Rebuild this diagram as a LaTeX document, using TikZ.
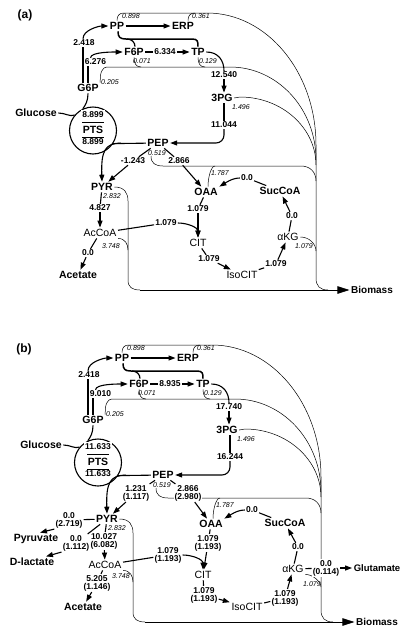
\documentclass[tikz,border=0pt]{standalone}
\usepackage{fontspec}
\setmainfont{Liberation Sans}
\usetikzlibrary{arrows.meta}
\newcommand\MetFont{\fontsize{10.5}{12}\selectfont}
\newcommand\NumFont{\fontsize{8.5}{8}\selectfont\bfseries}
\newcommand\ItFont{\fontsize{7}{8}\selectfont\itshape}
\tikzset{
  met/.style={inner sep=1.5pt, font=\MetFont\bfseries},
  metr/.style={inner sep=1.5pt, font=\MetFont},
  lab/.style={fill=white, inner sep=1pt, font=\NumFont, align=center},
  bio/.style={inner sep=0.5pt, font=\ItFont},
  fline/.style={line width=1.1pt},
  flux/.style={line width=1.1pt, -{Triangle[length=7pt,width=5pt]}},
  drain/.style={line width=0.5pt},
  bigarr/.style={line width=0.6pt, -{Triangle[length=12pt,width=7.5pt]}},
  ttl/.style={inner sep=0pt, font=\fontsize{12}{14}\selectfont\bfseries},
}
\newcommand\Skeleton{%
  \node[met] (PP) at (117,26) {PP};
  \node[met] (ERP) at (183,26) {ERP};
  \node[met] (F6P) at (134,52) {F6P};
  \node[met] (TP) at (198,52) {TP};
  \node[met] (G6P) at (88,88) {G6P};
  \node[met] (3PG) at (222,98) {3PG};
  \node[met] (PEP) at (158,143) {PEP};
  \node[met] (PYR) at (102,187) {PYR};
  \node[met] (OAA) at (206,192) {OAA};
  \node[met] (SucCoA) at (280,191) {SucCoA};
  \node[metr] (AcCoA) at (100,233) {AcCoA};
  \node[metr] (CIT) at (198,243) {CIT};
  \node[metr] (aKG) at (288,237) {αKG};
  \node[metr] (IsoCIT) at (242,275) {IsoCIT};
  \node[met] (Acetate) at (78,275) {Acetate};
  \node[met] (Glucose) at (36,113) {Glucose};
  \node[met, font=\fontsize{10}{12}\selectfont\bfseries] (Biomass) at (372,290) {Biomass};
  \node[circle, draw, line width=1.1pt, minimum size=47pt, inner sep=0pt] (PTS) at (93,130.5) {};
  \node[inner sep=0.5pt, font=\fontsize{10.5}{12}\selectfont\bfseries] (PTSt) at (93,129.5) {PTS};
  \draw[line width=0.9pt] ([shift={(-11,-8.5)}]PTS.center) -- ([shift={(11,-8.5)}]PTS.center);
  \draw[line width=0.9pt] ([shift={(-11,6.5)}]PTS.center) -- ([shift={(11,6.5)}]PTS.center);
  % italic biomass drains
  \node[bio] (i1) at (131,16) {0.898};
  \node[bio] (i2) at (201,16) {0.361};
  \node[bio] (i3) at (110,82) {0.205};
  \node[bio] (i4) at (142,61) {0.071};
  \node[bio] (i5) at (208,61) {0.129};
  \node[bio] (i6) at (241,107) {1.496};
  \node[bio] (i7) at (157,153) {0.519};
  \node[bio] (i8) at (220,173) {1.787};
  \node[bio] (i9) at (112,196) {2.832};
  % drain lines
  \coordinate (jTop) at (124,13);
  \coordinate (jMid) at (108,67);
  \coordinate (hPEP) at (151,156);
  \draw[drain] (PP.north) .. controls +(0,-5) and +(-5,0) .. (jTop) -- (207,13)
     .. controls (267,13) and (316,72) .. (316,145);
  \draw[drain] ([xshift=5pt]ERP.north) .. controls +(0,-5) and +(-5,0) .. (195,13);
  \draw[drain] (G6P.north east) .. controls +(0,-9) and +(-7,0) .. (jMid) -- (230,67)
     .. controls (277.5,67) and (316,108.6) .. (316,160);
  \draw[drain] (F6P.south) .. controls +(0,6) and +(-5,0) .. (141,67);
  \draw[drain] (TP.south) .. controls +(0,6) and +(-5,0) .. (205,67);
  \draw[drain] (3PG.east) -- (240,97) .. controls (282,97) and (316,128) .. (316,165);
  \draw[drain] (hPEP) .. controls (151,163) and (155,166) .. (163,166) -- (301,166)
     .. controls (310,166) and (316,172) .. (316,181);
  \draw[drain] ([xshift=2pt]OAA.north) .. controls +(0,-9) and +(-4,0) .. (215,166);
  \draw[drain] (316,145) -- (316,278) .. controls (316,286) and (320,290) .. (328,290);
  \draw[drain] (PYR.east) .. controls +(10,0) and +(0,-8) .. (128,201) -- (128,280)
     .. controls (128,287) and (132,290) .. (140,290);
  \draw[drain] (AcCoA.south east) .. controls +(7,0) and +(0,-6) .. (128,250);
  \coordinate (jBio) at (140,290);
  \draw[bigarr] (jBio) -- (Biomass);
  % unlabeled fluxes
  \draw[flux] (PP) -- (ERP);
  \draw[line width=1.5pt] ([xshift=1pt]PP.south) .. controls +(0,6) and +(-6,0) .. (126,39)
     -- (192,39) .. controls +(6,0) and +(0,-5) .. (TP.north);
  \draw[line width=1.2pt] (127,39) .. controls +(5,0) and +(0,-4) .. ([xshift=1pt]F6P.north);
  \draw[fline] (PTS.-33) -- (PEP);
  \coordinate (jPY) at (121,143.2);
  \draw[flux] (jPY) .. controls (105,143) and (101,151) .. (PYR.north);
  \draw[fline] (Glucose.east) .. controls +(7,0) and +(-5,2) .. (PTS.140);
  \draw[fline] (G6P.south) .. controls +(0,7) and +(3,-4) .. (PTS.115);
}
\newcommand\Conn{%
  \draw[fline] ([xshift=-5pt]G6P.north) -- ([xshift=-1pt]L1.south);
  \draw[flux] ([xshift=-1pt]L1.north) .. controls +(0,-9) and +(-9,0) .. (PP.west);
  \draw[fline] (G6P.north) -- (G6P.north |- L2.south);
  \draw[flux] ([xshift=-5pt]L2.north) .. controls +(0,-6) and +(-9,0) .. (F6P.west);
  \draw[fline] (F6P) -- (L3);
  \draw[flux] (L3) -- (TP);
  \draw[fline] (TP.east) .. controls +(12,0) and +(0,-10) .. (L4.north);
  \draw[flux] (L4.south) -- (L4.south |- 3PG.north);
  \draw[fline] (3PG.south -| L5.north) -- (L5.north);
  \draw[flux, rounded corners=8pt] (L5.south) |- (PEP.east);
  \draw[fline] (PEP) -- (L6); \draw[flux] (L6) -- (PYR);
  \draw[fline] (PEP) -- (L7); \draw[flux] (L7) -- (OAA);
  \draw[fline] (PYR) -- (L8); \draw[flux] (L8) -- (AcCoA);
  \draw[fline] (AcCoA) -- (L9); \draw[flux] (L9) -- (Acetate);
  \draw[fline] (AcCoA) -- (L10);
  \draw[flux] (L10.east) .. controls +(10,0) and +(0,-10) .. (CIT.north);
  \draw[fline] (OAA) -- (L11); \draw[flux] (L11) -- (CIT);
  \draw[fline] (CIT) -- (L12); \draw[flux] (L12) -- (IsoCIT);
  \draw[fline] (IsoCIT) -- (L13); \draw[flux] (L13) -- (aKG);
  \draw[fline] (aKG) -- (L14); \draw[flux] (L14) -- (SucCoA);
  \draw[fline] (SucCoA) -- (L15);
  \draw[flux] (L15.west) .. controls +(-8,0) and +(5,-3) .. (OAA.north east);
}
\begin{document}
\begin{tikzpicture}[x=1pt, y=-1pt]
\fill[white] (0,0) rectangle (409,635);
\useasboundingbox (0,0) rectangle (409,635);
\node[ttl] (ta) at (25,15) {(a)};
\node[ttl] (tb) at (24,349) {(b)};
% ---------------- panel (a)
\begin{scope}[name prefix=a-]
  \Skeleton
  \node[bio] (i10) at (111,246) {3.748};
  \draw[drain] (aKG.east) .. controls +(9,0) and +(0,-7) .. (316,251);
  \node[bio] (i11) at (304,246) {1.079};
  \node[lab] (L0a) at (93,114.5) {8.899};
  \node[lab] (L0b) at (93,142) {8.899};
  \node[lab] (L1) at (84,43) {2.418};
  \node[lab] (L2) at (95.5,62) {6.276};
  \node[lab] (L3) at (165,52) {6.334};
  \node[lab] (L4) at (224,75) {12.540};
  \node[lab] (L5) at (224,125) {11.044};
  \node[lab] (L6) at (133,161) {-1.243};
  \node[lab] (L7) at (179,161) {2.866};
  \node[lab] (L8) at (100,208) {4.827};
  \node[lab] (L9) at (88,253) {0.0};
  \node[lab] (L10) at (166,223) {1.079};
  \node[lab] (L11) at (198,209) {1.079};
  \node[lab] (L12) at (209,259) {1.079};
  \node[lab] (L13) at (276,264) {1.079};
  \node[lab] (L14) at (292,216) {0.0};
  \node[lab] (L15) at (247,178) {0.0};
  \Conn
\end{scope}
% ---------------- panel (b)
\begin{scope}[shift={(5,332)}, name prefix=b-]
  \Skeleton
  \node[bio] (i10) at (116,244) {3.748};
  \draw[drain] (aKG.south east) .. controls +(8,0) and +(0,-5) .. (316,255);
  \node[bio] (i11) at (307,252) {1.079};
  \node[lab] (L0a) at (93,114.5) {11.633};
  \node[lab] (L0b) at (93,142) {11.633};
  \node[lab] (L1) at (84,43) {2.418};
  \node[lab] (L2) at (95.5,62) {9.010};
  \node[lab] (L3) at (165,52) {8.935};
  \node[lab] (L4) at (224,75) {17.740};
  \node[lab] (L5) at (225,125) {16.244};
  \node[lab] (L6) at (131,161) {1.231\\(1.117)};
  \node[lab] (L7) at (183,161) {2.866\\(2.980)};
  \node[lab] (L8) at (99,209) {10.027\\(6.082)};
  \node[lab] (L9) at (92,251) {5.205\\(1.146)};
  \node[lab] (L10) at (163,223) {1.079\\(1.193)};
  \node[lab] (L11) at (203,211) {1.079\\(1.193)};
  \node[lab] (L12) at (199,263) {1.079\\(1.193)};
  \node[lab] (L13) at (280,266) {1.079\\(1.193)};
  \node[lab] (L14) at (293,215) {0.0};
  \node[lab] (L15) at (247,178) {0.0};
  \node[lab] (L16) at (64,188) {0.0\\(2.719)};
  \node[lab] (L17) at (71,211) {0.0\\(1.112)};
  \node[lab] (L18) at (321,236) {0.0\\(0.114)};
  \node[met] (Pyruvate) at (31,207) {Pyruvate};
  \node[met] (Dlac) at (27,230) {D-lactate};
  \node[met, font=\fontsize{9.5}{11}\selectfont\bfseries] (Glu) at (372,236) {Glutamate};
  \Conn
  \draw[fline] (PYR) -- (L16);
  \draw[flux] (L16.south west) -- ([xshift=4pt]Pyruvate.north);
  \draw[fline] (PYR) -- (L17);
  \draw[flux] (L17.south west) -- ([xshift=14pt]Dlac.north);
  \draw[fline] (aKG) -- (L18);
  \draw[flux] (L18) -- (Glu);
\end{scope}
\end{tikzpicture}
\end{document}
